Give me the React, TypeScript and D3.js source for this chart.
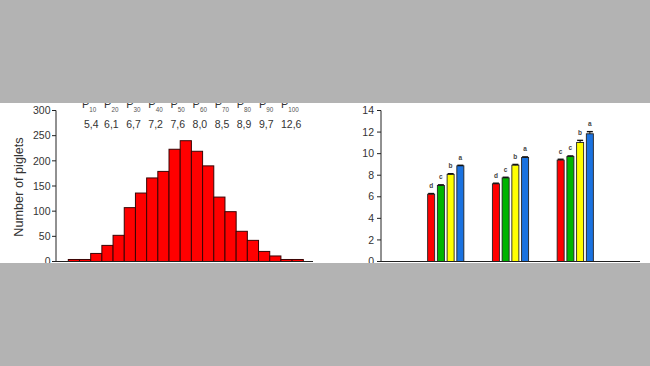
import React from "react";
import * as d3 from "d3";

// Left chart: histogram of piglet counts
const binCounts = [4, 4, 16, 32, 52, 107, 136, 166, 179, 223, 240, 219, 190, 128, 99, 60, 42, 20, 11, 4, 4];
const leftTicks = [0, 50, 100, 150, 200, 250, 300];
const percentileNames = ["10", "20", "30", "40", "50", "60", "70", "80", "90", "100"];
const percentileValues = ["5,4", "6,1", "6,7", "7,2", "7,6", "8,0", "8,5", "8,9", "9,7", "12,6"];

// Right chart: grouped bars
const groups = [1, 2, 3];
const seriesNames = ["red", "green", "yellow", "blue"];
const seriesColors = ["#ff0000", "#00b400", "#ffff00", "#1a72e0"];
const redValues = [6.24, 7.2, 9.4];
const greenValues = [7.05, 7.75, 9.73];
const yellowValues = [8.08, 8.93, 11.03];
const blueValues = [8.87, 9.64, 11.84];
const redErr = [0.06, 0.06, 0.08];
const greenErr = [0.06, 0.06, 0.06];
const yellowErr = [0.06, 0.07, 0.2];
const blueErr = [0.05, 0.06, 0.2];
const redLetters = ["d", "d", "c"];
const greenLetters = ["c", "c", "c"];
const yellowLetters = ["b", "b", "b"];
const blueLetters = ["a", "a", "a"];
const rightTicks = [0, 2, 4, 6, 8, 10, 12, 14];

const FONT = "'Liberation Sans', Arial, Helvetica, sans-serif";

export default function App() {
  const W = 650, H = 366;
  const bandTop = 103, bandBottom = 263;

  // Left chart scales
  const ly = d3.scaleLinear().domain([0, 300]).range([261.5, 110.5]);
  const lx = d3.scaleBand<number>().domain(binCounts.map((_, i) => i)).range([68.3, 303.3]).padding(0);
  const leftAxisX = 56, leftAxisEnd = 313;
  const px = d3.scalePoint<string>().domain(percentileNames).range([82, 281]);

  // Right chart scales
  const ry = d3.scaleLinear().domain([0, 14]).range([261.5, 110.5]);
  const rx = d3.scaleLinear().domain([0, 4]).range([381, 640]);
  const inner = d3.scaleBand<string>().domain(seriesNames).range([-18.1, 18.1]).paddingInner(0.28).paddingOuter(0);
  const seriesVals = [redValues, greenValues, yellowValues, blueValues];
  const seriesErr = [redErr, greenErr, yellowErr, blueErr];
  const seriesLetters = [redLetters, greenLetters, yellowLetters, blueLetters];

  const axisColor = "#222";
  const textColor = "#333";

  return (
    <svg width={W} height={H} style={{ position: "absolute", left: 0, top: 0 }} fontFamily={FONT}>
      <rect x={0} y={0} width={W} height={H} fill="#b3b3b3" />
      <rect x={0} y={bandTop} width={W} height={bandBottom - bandTop} fill="#ffffff" />

      {/* LEFT CHART */}
      <g>
        {binCounts.map((v, i) => (
          <rect
            key={i}
            x={lx(i)!}
            y={ly(v)}
            width={lx.bandwidth()}
            height={ly(0) - ly(v)}
            fill="#ff0000"
            stroke="#3a0505"
            strokeWidth={1}
          />
        ))}
        <line x1={leftAxisX} x2={leftAxisX} y1={ly(300)} y2={ly(0)} stroke={axisColor} strokeWidth={1} />
        <line x1={leftAxisX} x2={leftAxisEnd} y1={ly(0)} y2={ly(0)} stroke={axisColor} strokeWidth={1.2} />
        {leftTicks.map((t) => (
          <g key={t}>
            <line x1={leftAxisX - 4} x2={leftAxisX} y1={ly(t)} y2={ly(t)} stroke={axisColor} strokeWidth={1} />
            <text x={leftAxisX - 5.5} y={ly(t)} dy="0.35em" textAnchor="end" fontSize={10.5} fill={textColor}>
              {t}
            </text>
          </g>
        ))}
        <text
          transform={`translate(22.5,187) rotate(-90)`}
          textAnchor="middle"
          fontSize={12.7}
          fill={textColor}
        >
          Number of piglets
        </text>
        {percentileNames.map((p, i) => (
          <g key={p}>
            <text x={px(p)!} y={107.7} fontSize={11} fill="#333">
              P<tspan fontSize={6.3} dy={4.3} fill="#555">{p}</tspan>
            </text>
            <text x={px(p)! + (i === 0 ? 2 : 0)} y={127.7} fontSize={10.5} fill={textColor}>
              {percentileValues[i]}
            </text>
          </g>
        ))}
      </g>

      {/* RIGHT CHART */}
      <g>
        {groups.map((g, gi) =>
          seriesNames.map((s, si) => {
            const v = seriesVals[si][gi];
            const e = seriesErr[si][gi];
            const x0 = rx(g) + inner(s)!;
            const bw = inner.bandwidth();
            const cx = x0 + bw / 2;
            return (
              <g key={`${g}-${s}`}>
                <rect
                  x={x0}
                  y={ry(v)}
                  width={bw}
                  height={ry(0) - ry(v)}
                  fill={seriesColors[si]}
                  stroke="#222"
                  strokeWidth={0.9}
                />
                <line x1={cx} x2={cx} y1={ry(v)} y2={ry(v + e)} stroke="#111" strokeWidth={1} />
                <line x1={cx - 3} x2={cx + 3} y1={ry(v + e)} y2={ry(v + e)} stroke="#111" strokeWidth={1.4} />
                <text
                  x={cx}
                  y={ry(v + e) - 5.5}
                  textAnchor="middle"
                  fontSize={6.5}
                  fontWeight="bold"
                  fill="#444"
                >
                  {seriesLetters[si][gi]}
                </text>
              </g>
            );
          })
        )}
        <line x1={rx(0)} x2={rx(0)} y1={ry(14)} y2={ry(0)} stroke={axisColor} strokeWidth={1} />
        <line x1={rx(0)} x2={rx(4)} y1={ry(0)} y2={ry(0)} stroke={axisColor} strokeWidth={1.2} />
        {rightTicks.map((t) => (
          <g key={t}>
            <line x1={rx(0) - 4} x2={rx(0)} y1={ry(t)} y2={ry(t)} stroke={axisColor} strokeWidth={1} />
            <text x={rx(0) - 7} y={ry(t)} dy="0.35em" textAnchor="end" fontSize={10.5} fill={textColor}>
              {t}
            </text>
          </g>
        ))}
      </g>

      {/* gray bands covering overflow */}
      <rect x={0} y={0} width={W} height={bandTop} fill="#b3b3b3" />
      <rect x={0} y={bandBottom} width={W} height={H - bandBottom} fill="#b3b3b3" />
    </svg>
  );
}
